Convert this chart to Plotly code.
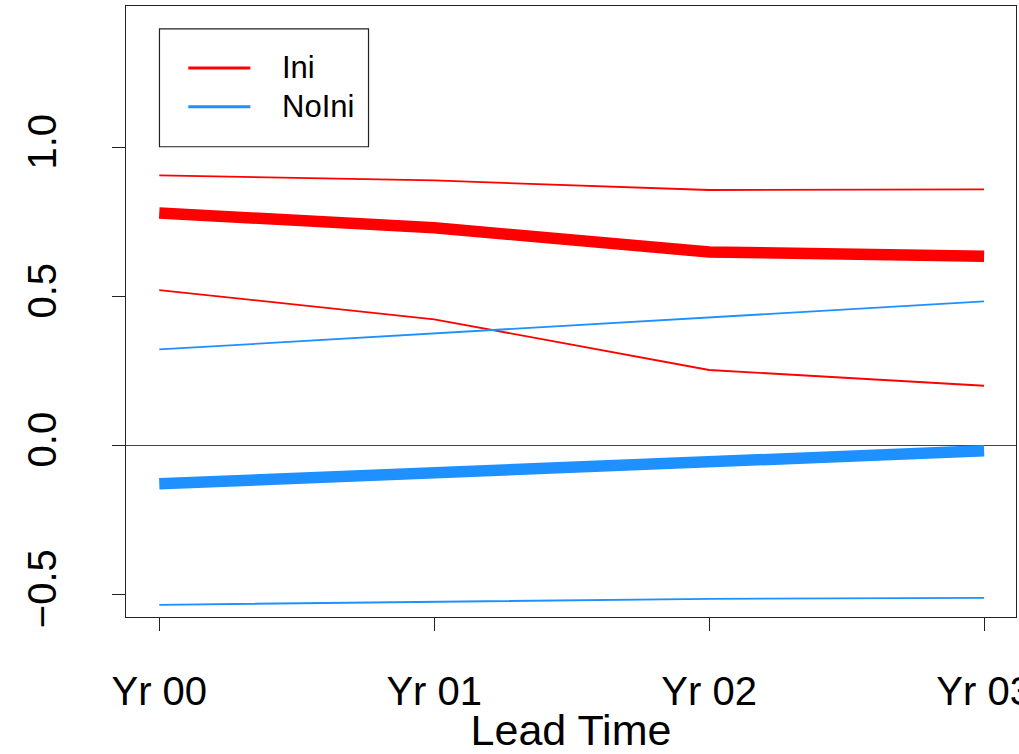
import plotly.graph_objects as go

lead = [0, 1, 2, 3]
lead_labels = ["Yr 00", "Yr 01", "Yr 02", "Yr 03"]

ini_mean = [0.781, 0.731, 0.650, 0.636]
ini_upper = [0.907, 0.890, 0.858, 0.860]
ini_lower = [0.522, 0.424, 0.254, 0.201]

noini_mean = [-0.128, -0.091, -0.050, -0.017]
noini_upper = [0.323, 0.377, 0.432, 0.484]
noini_lower = [-0.534, -0.524, -0.514, -0.511]

y_ticks = [-0.5, 0.0, 0.5, 1.0]
y_tick_labels = ["\u22120.5", "0.0", "0.5", "1.0"]

legend_names = ["Ini", "NoIni"]

RED = "#FF0000"
BLUE = "#1E90FF"
FONT = "Liberation Sans, Arial, Helvetica, sans-serif"

fig = go.Figure()

for name, vals, col, w in [
    ("Ini upper", ini_upper, RED, 1.8), ("Ini lower", ini_lower, RED, 1.8),
    ("Ini", ini_mean, RED, 11.5),
    ("NoIni upper", noini_upper, BLUE, 1.8), ("NoIni lower", noini_lower, BLUE, 1.8),
    ("NoIni", noini_mean, BLUE, 11.5),
]:
    fig.add_trace(go.Scatter(x=lead, y=vals, mode="lines", name=name,
                             line=dict(color=col, width=w),
                             showlegend=False, hoverinfo="skip"))

# R-style legend box (layout decoration in paper coordinates)
shapes = [dict(type="rect", xref="paper", yref="paper",
               x0=0.0376, x1=0.2725, y0=0.7696, y1=0.9624,
               line=dict(color="#222", width=1.2), fillcolor="white", layer="above")]
annotations = []
for i, (nm, col) in enumerate(zip(legend_names, [RED, BLUE])):
    yy = 0.8987 - i * 0.0637
    shapes.append(dict(type="line", xref="paper", yref="paper",
                       x0=0.0700, x1=0.1397, y0=yy, y1=yy,
                       line=dict(color=col, width=3), layer="above"))
    annotations.append(dict(xref="paper", yref="paper", x=0.1730, y=yy,
                            xanchor="left", yanchor="middle", text=nm,
                            showarrow=False, font=dict(size=31, color="black")))

fig.update_layout(
    width=1019, height=754,
    margin=dict(l=126, r=3, t=6, b=137),
    paper_bgcolor="white", plot_bgcolor="white",
    font=dict(family=FONT, color="black", size=40),
    showlegend=False,
    shapes=shapes, annotations=annotations,
    xaxis=dict(range=[-0.121, 3.116], tickmode="array", tickvals=lead,
               ticktext=lead_labels, ticks="outside", ticklen=13,
               tickcolor="#222", tickwidth=1.2, automargin=False,
               showline=True, linecolor="#222", linewidth=1.2, mirror=True,
               showgrid=False, zeroline=False, ticklabeloverflow="allow",
               tickfont=dict(size=40), ticklabelstandoff=26,
               title=dict(text="Lead Time", font=dict(size=43), standoff=7)),
    yaxis=dict(range=[-0.575, 1.4755], tickmode="array", tickvals=y_ticks,
               ticktext=y_tick_labels, ticks="outside", ticklen=13,
               tickcolor="#222", tickwidth=1.2, tickangle=-90, automargin=False,
               showline=True, linecolor="#222", linewidth=1.2, mirror=True,
               showgrid=False, zeroline=True, zerolinecolor="#444",
               zerolinewidth=1.4,
               tickfont=dict(size=40), ticklabelstandoff=40),
)

fig.write_html("out.html")
